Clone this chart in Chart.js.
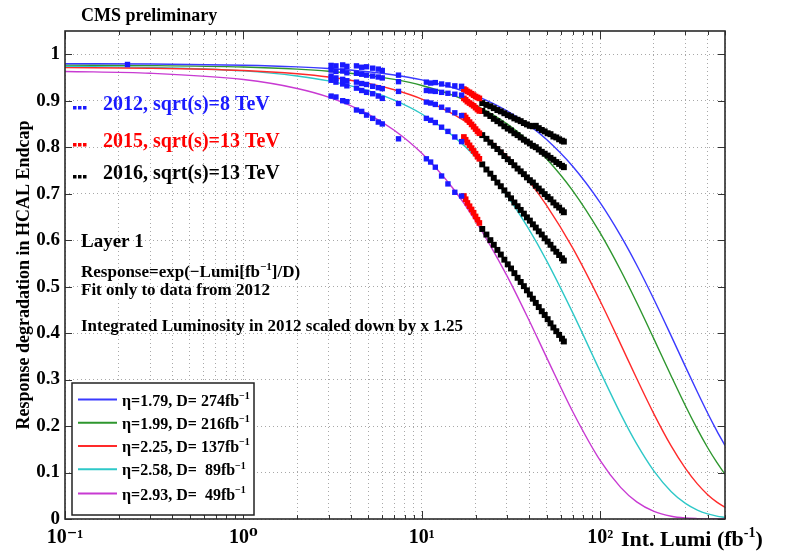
<!DOCTYPE html>
<html><head><meta charset="utf-8">
<script src="https://cdn.jsdelivr.net/npm/chart.js@4/dist/chart.umd.min.js"></script>
<style>html,body{margin:0;padding:0;background:#fff;overflow:hidden;}</style>
</head><body>
<canvas id="c" width="785" height="554"></canvas>
<script>
// ---------------- DATA ----------------
const curveLabels = ['η=1.79, D= 274fb⁻¹','η=1.99, D= 216fb⁻¹','η=2.25, D= 137fb⁻¹','η=2.58, D=  89fb⁻¹','η=2.93, D=  49fb⁻¹'];
const curveX = [0.1,0.3,1,2,3,5,7,10,15,20,30,40,50,70,100,130,160,200,250,300,350,400,450,500];
const curveBlue = [0.9796,0.9789,0.9764,0.9729,0.9693,0.9623,0.9553,0.9449,0.9278,0.9110,0.8784,0.8469,0.8165,0.7590,0.6803,0.6098,0.5466,0.4723,0.3935,0.3279,0.2732,0.2276,0.1896,0.1580];
const curveGreen = [0.9765,0.9756,0.9725,0.9680,0.9635,0.9546,0.9458,0.9328,0.9115,0.8906,0.8503,0.8118,0.7751,0.7066,0.6149,0.5352,0.4658,0.3871,0.3071,0.2436,0.1933,0.1533,0.1217,0.0965];
const curveRed = [0.9713,0.9699,0.9649,0.9579,0.9509,0.9372,0.9236,0.9036,0.8712,0.8400,0.7808,0.7259,0.6747,0.5832,0.4684,0.3763,0.3023,0.2258,0.1567,0.1088,0.0756,0.0524,0.0364,0.0253];
const curveCyan = [0.9739,0.9717,0.9641,0.9533,0.9427,0.9217,0.9013,0.8714,0.8238,0.7788,0.6960,0.6220,0.5559,0.4440,0.3170,0.2263,0.1615,0.1030,0.0587,0.0335,0.0191,0.0109,0.0062,0.0035];
const curveMagenta = [0.9630,0.9591,0.9455,0.9264,0.9077,0.8714,0.8365,0.7868,0.7105,0.6416,0.5232,0.4266,0.3478,0.2313,0.1254,0.0680,0.0368,0.0163,0.0059,0.0021,0.0008,0.0003,0.0001,0.0000];

const x2012 = [0.224,3.1,3.3,3.6,3.8,4.3,4.6,4.9,5.3,5.7,6.0,7.4,10.6,11.2,11.9,12.9,14.0,15.3,16.7];
const y2012_eta179 = [0.978,0.976,0.975,0.977,0.974,0.975,0.972,0.973,0.970,0.968,0.965,0.955,0.940,0.938,0.939,0.936,0.934,0.932,0.931];
const y2012_eta199 = [null,0.966,0.963,0.964,0.960,0.959,0.957,0.955,0.953,0.951,0.949,0.941,0.922,0.921,0.920,0.918,0.916,0.914,0.912];
const y2012_eta225 = [null,0.953,0.949,0.946,0.943,0.940,0.937,0.935,0.931,0.928,0.926,0.920,0.897,0.895,0.892,0.886,0.880,0.874,0.868];
const y2012_eta258 = [null,0.944,0.940,0.936,0.932,0.927,0.922,0.918,0.915,0.910,0.905,0.894,0.862,0.858,0.853,0.843,0.834,0.822,0.812];
const y2012_eta293 = [null,0.910,0.908,0.900,0.898,0.880,0.877,0.869,0.862,0.854,0.850,0.818,0.775,0.768,0.757,0.738,0.721,0.703,0.695];

const x2015 = [17.2,17.6,18.0,18.5,19.0,19.5,20.0,20.5,21.0];
const y2015_eta179 = [0.925,0.923,0.920,0.918,0.915,0.912,0.909,0.907,0.905];
const y2015_eta199 = [0.905,0.902,0.898,0.895,0.892,0.889,0.885,0.881,0.878];
const y2015_eta225 = [0.868,0.864,0.859,0.854,0.849,0.844,0.839,0.834,0.830];
const y2015_eta258 = [0.822,0.816,0.810,0.804,0.798,0.792,0.786,0.780,0.775];
const y2015_eta293 = [0.695,0.688,0.680,0.673,0.666,0.659,0.651,0.644,0.637];

const x2016 = [21.8,23.0,24.2,25.3,26.5,27.7,29.0,30.3,31.6,33.0,34.4,35.8,37.3,38.8,40.3,41.9,43.5,45.2,47.0,48.8,50.7,52.6,54.6,56.7,58.8,61.0,62.5];
const y2016_eta179 = [0.895,0.891,0.888,0.884,0.880,0.877,0.873,0.869,0.866,0.862,0.859,0.856,0.852,0.849,0.846,0.845,0.846,0.841,0.837,0.834,0.830,0.828,0.823,0.821,0.817,0.814,0.812];
const y2016_eta199 = [0.878,0.872,0.867,0.861,0.856,0.851,0.845,0.840,0.836,0.830,0.826,0.821,0.816,0.812,0.808,0.803,0.800,0.795,0.790,0.786,0.782,0.777,0.773,0.768,0.764,0.760,0.757];
const y2016_eta225 = [0.826,0.818,0.810,0.803,0.796,0.789,0.781,0.774,0.768,0.761,0.754,0.748,0.742,0.735,0.729,0.724,0.717,0.711,0.705,0.699,0.693,0.688,0.681,0.675,0.670,0.664,0.660];
const y2016_eta258 = [0.763,0.752,0.743,0.734,0.724,0.716,0.707,0.698,0.690,0.681,0.673,0.665,0.657,0.649,0.642,0.634,0.627,0.619,0.612,0.604,0.597,0.590,0.582,0.575,0.568,0.561,0.556];
const y2016_eta293 = [0.624,0.612,0.600,0.590,0.579,0.569,0.558,0.548,0.539,0.529,0.519,0.510,0.501,0.492,0.483,0.474,0.465,0.456,0.447,0.439,0.430,0.421,0.412,0.404,0.396,0.388,0.382];

const xTickValues = [0.1,0.2,0.3,0.4,0.5,0.6,0.7,0.8,0.9,1,2,3,4,5,6,7,8,9,10,20,30,40,50,60,70,80,90,100,200,300,400,500];
const xMajorTicks = [0.1,1,10,100];
const xMajorLabels = ['10⁻¹','10⁰','10¹','10²'];
const yTickValues = [0,0.1,0.2,0.3,0.4,0.5,0.6,0.7,0.8,0.9,1];
const yTickLabels = ['0','0.1','0.2','0.3','0.4','0.5','0.6','0.7','0.8','0.9','1'];

const seriesNames = ['2012, sqrt(s)=8 TeV','2015, sqrt(s)=13 TeV','2016, sqrt(s)=13 TeV'];

// ---------------- STYLE ----------------
const curveColors = ['#3a3aff','#2e962e','#ff2a2a','#2ec8c8','#c83ad2'];
const yearColors = ['#1a1aff','#ff0000','#000000'];
const SERIF = '"Liberation Serif", "DejaVu Serif", serif';

const pts = (xs, ys) => xs.map((x,i)=>({x, y: ys[i]})).filter(p=>p.y!==null);

const curves = [curveBlue,curveGreen,curveRed,curveCyan,curveMagenta];
const d2012 = [y2012_eta179,y2012_eta199,y2012_eta225,y2012_eta258,y2012_eta293];
const d2015 = [y2015_eta179,y2015_eta199,y2015_eta225,y2015_eta258,y2015_eta293];
const d2016 = [y2016_eta179,y2016_eta199,y2016_eta225,y2016_eta258,y2016_eta293];

const datasets = [];
[[x2012,d2012,0,3.8],[x2015,d2015,1,4.0],[x2016,d2016,2,4.2]].forEach(([xs,groups,yi,r])=>{
  groups.forEach((ys)=>{
    datasets.push({label: seriesNames[yi], data: pts(xs,ys), showLine:false, pointStyle:'rect',
      pointRadius:r, pointBorderWidth:0, backgroundColor:yearColors[yi], borderColor:yearColors[yi], order:0});
  });
});
curves.forEach((ys,i)=>{
  datasets.push({label: curveLabels[i], data: pts(curveX, ys), showLine:true, pointRadius:0,
    borderColor:curveColors[i], backgroundColor:curveColors[i], borderWidth:1.4,
    cubicInterpolationMode:'monotone', order:1});
});

function rich(ctx, text, x, y, size, color){
  const parts = [];
  const idx = text.indexOf('⁻¹');
  if (idx>=0){ parts.push([text.slice(0,idx),false]); parts.push(['−1',true]); parts.push([text.slice(idx+2),false]); }
  else parts.push([text,false]);
  let cx = x;
  ctx.fillStyle = color; ctx.textAlign='left'; ctx.textBaseline='alphabetic';
  parts.forEach(([t,s])=>{
    ctx.font = `bold ${s?Math.round(size*0.62):size}px ${SERIF}`;
    ctx.fillText(t, cx, s ? y - size*0.42 : y);
    cx += ctx.measureText(t).width;
  });
}

const overlay = {
  id:'overlay',
  afterDraw(chart){
    const {ctx, chartArea:a, scales} = chart;
    const xs = scales.x, ys = scales.y;
    ctx.save();
    ctx.strokeStyle='#333'; ctx.lineWidth=1;
    const line=(x1,y1,x2,y2)=>{ctx.beginPath();ctx.moveTo(x1,y1);ctx.lineTo(x2,y2);ctx.stroke();};
    xTickValues.forEach(v=>{
      const px = Math.round(xs.getPixelForValue(v))+0.5;
      const L = xMajorTicks.includes(v) ? 8 : 4;
      line(px,a.bottom,px,a.bottom-L); line(px,a.top,px,a.top+L);
    });
    yTickValues.forEach(v=>{
      const py = Math.round(ys.getPixelForValue(v))+0.5;
      line(a.left,py,a.left+7,py); line(a.right,py,a.right-7,py);
    });
    ctx.strokeStyle='#2a2a2a'; ctx.lineWidth=1.6;
    ctx.strokeRect(a.left, a.top, a.right-a.left, a.bottom-a.top);

    ctx.fillStyle='#000'; ctx.textAlign='left'; ctx.textBaseline='alphabetic';
    ctx.font = `bold 18px ${SERIF}`;
    ctx.fillText('CMS preliminary', 81, 21);

    const yb = [110,147,179];
    seriesNames.forEach((n,i)=>{
      ctx.fillStyle = yearColors[i];
      for (let k=0;k<3;k++) ctx.fillRect(73+k*5, yb[i]-4, 3.5, 3.5);
      ctx.font = `bold 20px ${SERIF}`;
      ctx.fillText(n, 103, yb[i]);
    });

    ctx.fillStyle='#000';
    ctx.font = `bold 19px ${SERIF}`;
    ctx.fillText('Layer 1', 81, 247);
    rich(ctx, 'Response=exp(−Lumi[fb⁻¹]/D)', 81, 277, 17, '#000');
    ctx.font = `bold 17px ${SERIF}`; ctx.fillStyle='#000';
    ctx.fillText('Fit only to data from 2012', 81, 295);
    ctx.fillText('Integrated Luminosity in 2012 scaled down by x 1.25', 81, 331);

    const bx=72, by=383, bw=182, bh=132;
    ctx.fillStyle='#fff'; ctx.fillRect(bx,by,bw,bh);
    ctx.strokeStyle='#222'; ctx.lineWidth=1.5; ctx.strokeRect(bx,by,bw,bh);
    const rowY=[399.5,422.7,446,469.3,493.5];
    curveLabels.forEach((lab,i)=>{
      ctx.strokeStyle = curveColors[i]; ctx.lineWidth=2;
      line(78,rowY[i],117,rowY[i]);
      rich(ctx, lab, 122, rowY[i]+6, 16, '#000');
    });

    ctx.save();
    ctx.translate(24, 275); ctx.rotate(-Math.PI/2);
    ctx.fillStyle='#000'; ctx.textAlign='center'; ctx.textBaseline='middle';
    ctx.font = `bold 18px ${SERIF}`;
    ctx.fillText('Response degradation in HCAL Endcap', 0, 0);
    ctx.restore();
    let cx = 621; const base = 546;
    ctx.fillStyle='#000'; ctx.textAlign='left'; ctx.textBaseline='alphabetic';
    ctx.font = `bold 22px ${SERIF}`; ctx.fillText('Int. Lumi (fb', cx, base); cx += ctx.measureText('Int. Lumi (fb').width;
    ctx.font = `bold 14px ${SERIF}`; ctx.fillText('-1', cx, base-9); cx += ctx.measureText('-1').width;
    ctx.font = `bold 22px ${SERIF}`; ctx.fillText(')', cx, base);
    ctx.restore();
  }
};

new Chart(document.getElementById('c').getContext('2d'), {
  type:'scatter',
  data:{datasets},
  options:{
    responsive:false, animation:false, devicePixelRatio:1,
    layout:{padding:{left:0,right:60,top:31,bottom:0}},
    plugins:{legend:{display:false}, tooltip:{enabled:false}, title:{display:false}},
    scales:{
      x:{type:'logarithmic', min:0.1, max:500,
        afterBuildTicks:(s)=>{ s.ticks = xTickValues.map(v=>({value:v})); },
        afterFit:(s)=>{ s.height = 35; },
        grid:{color:'#a8a8a8', lineWidth:1, drawTicks:false},
        border:{display:false, dash:[1,3]},
        ticks:{autoSkip:false, maxRotation:0, minRotation:0, padding:7, color:'#000',
          font:{family:SERIF, weight:'bold', size:20},
          callback:(v)=>{ const i = xMajorTicks.indexOf(v); return i>=0 ? xMajorLabels[i] : ''; }}
      },
      y:{type:'linear', min:0, max:1.05,
        afterBuildTicks:(s)=>{ s.ticks = yTickValues.map(v=>({value:v})); },
        afterFit:(s)=>{ s.width = 65; },
        grid:{color:'#a8a8a8', lineWidth:1, drawTicks:false},
        border:{display:false, dash:[1,3]},
        ticks:{padding:5, color:'#000', font:{family:SERIF, weight:'bold', size:19},
          callback:(v)=>{ const i = yTickValues.indexOf(v); return i>=0 ? yTickLabels[i] : ''; }}
      }
    }
  },
  plugins:[overlay]
});
</script>
</body></html>
